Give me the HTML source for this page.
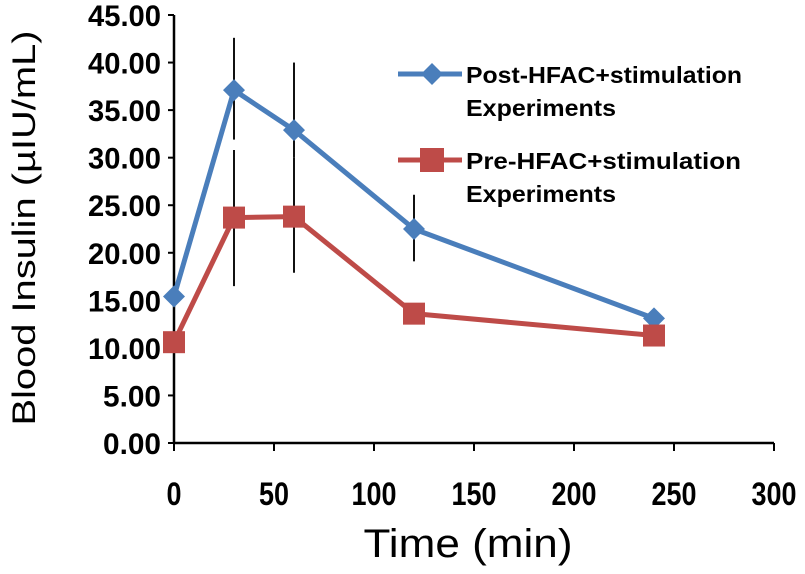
<!DOCTYPE html>
<html><head><meta charset="utf-8"><style>
body{margin:0;background:#fff}
svg text{font-family:"Liberation Sans",sans-serif}
</style></head><body>
<svg id="chart" width="805" height="569" viewBox="0 0 805 569">
<g id="axes"></g><g id="bars"></g><g id="series"></g><g id="legend"></g>
</svg>
<script>
const times=[0,30,60,120,240];
const postVals=[15.4,37.1,32.9,22.5,13.1];
const postErrLow=[15.4,31.9,30.0,19.1,13.1];
const postErrHigh=[15.4,42.6,40.0,26.1,13.1];
const preVals=[10.6,23.7,23.8,13.6,11.3];
const preErrLow=[10.6,16.5,17.9,13.6,11.3];
const preErrHigh=[10.6,30.8,30.0,13.6,11.3];
const yTicks=[0,5,10,15,20,25,30,35,40,45];
const xTicks=[0,50,100,150,200,250,300];

const NS="http://www.w3.org/2000/svg";
const X=v=>174+v*2;
const Y=v=>443-v*(428/45);
function mk(tag,attrs,parent,text){const e=document.createElementNS(NS,tag);for(const k in attrs)e.setAttribute(k,attrs[k]);if(text!==undefined)e.textContent=text;parent.appendChild(e);return e;}
const axes=document.getElementById('axes'),bars=document.getElementById('bars'),series=document.getElementById('series'),legend=document.getElementById('legend');

let e=mk('line',{x1:X(0),y1:Y(45),x2:X(0),y2:Y(0),stroke:'#000','stroke-width':2.5},axes);


e=mk('line',{x1:X(0),y1:Y(0),x2:X(300),y2:Y(0),stroke:'#000','stroke-width':2.5},axes);


yTicks.forEach(t=>{
  mk('line',{x1:X(0)-6,y1:Y(t),x2:X(0),y2:Y(t),stroke:'#000','stroke-width':2},axes);
  const s=t.toFixed(2);
  const l=mk('text',{x:161,y:Y(t)+11,'text-anchor':'end','font-size':30,'font-weight':'bold',textLength:s.length*15-2,lengthAdjust:'spacingAndGlyphs'},axes,s);
  
  
});
xTicks.forEach(t=>{
  mk('line',{x1:X(t),y1:Y(0),x2:X(t),y2:Y(0)+8,stroke:'#000','stroke-width':2},axes);
  const s=String(t);
  const l=mk('text',{x:X(t),y:505,'text-anchor':'middle','font-size':32,'font-weight':'bold',textLength:s.length*15,lengthAdjust:'spacingAndGlyphs'},axes,s);
  
  
});
e=mk('text',{x:468,y:557,'text-anchor':'middle','font-size':40,textLength:209,lengthAdjust:'spacingAndGlyphs'},axes,'Time (min)');


e=mk('text',{x:0,y:0,'text-anchor':'middle','font-size':32,textLength:395,lengthAdjust:'spacingAndGlyphs',transform:'translate(35,228) rotate(-90)'},axes,'Blood Insulin (µIU/mL)');



function errs(lo,hi,name){times.forEach((t,i)=>{if(hi[i]-lo[i]<0.5)return;
  const b=mk('line',{x1:X(t),y1:Y(hi[i]),x2:X(t),y2:Y(lo[i]),stroke:'#111','stroke-width':2},bars);
  
  });}
errs(postErrLow,postErrHigh,'post-error-bar');
errs(preErrLow,preErrHigh,'pre-error-bar');

function line(vals,color,name){
  const p=mk('polyline',{points:times.map((t,i)=>X(t)+','+Y(vals[i])).join(' '),fill:'none',stroke:color,'stroke-width':5,'stroke-linejoin':'round'},series);
  
  
}
line(postVals,'#4a7ebb','post-series-line');
line(preVals,'#be4b48','pre-series-line');
times.forEach((t,i)=>{
  const cx=X(t),cy=Y(postVals[i]);
  const d=mk('polygon',{points:`${cx},${cy-11} ${cx+11},${cy} ${cx},${cy+11} ${cx-11},${cy}`,fill:'#4a7ebb'},series);
  
  
  const sy=Y(preVals[i]);
  const s=mk('rect',{x:cx-11,y:sy-11,width:22,height:22,fill:'#be4b48'},series);
  
  
});

const lt={'font-size':23,'font-weight':'bold',lengthAdjust:'spacingAndGlyphs'};
mk('line',{x1:398,y1:74,x2:462,y2:74,stroke:'#4a7ebb','stroke-width':5},legend);
mk('polygon',{points:'432,63 443,74 432,85 421,74',fill:'#4a7ebb'},legend);
e=mk('text',Object.assign({x:466,y:83,textLength:276},lt),legend,'Post-HFAC+stimulation');


mk('text',Object.assign({x:466,y:116,textLength:150},lt),legend,'Experiments');
mk('line',{x1:398,y1:160,x2:462,y2:160,stroke:'#be4b48','stroke-width':5},legend);
mk('rect',{x:420,y:148,width:24,height:24,fill:'#be4b48'},legend);
e=mk('text',Object.assign({x:466,y:169,textLength:275},lt),legend,'Pre-HFAC+stimulation');


mk('text',Object.assign({x:466,y:202,textLength:150},lt),legend,'Experiments');
</script>
</body></html>
